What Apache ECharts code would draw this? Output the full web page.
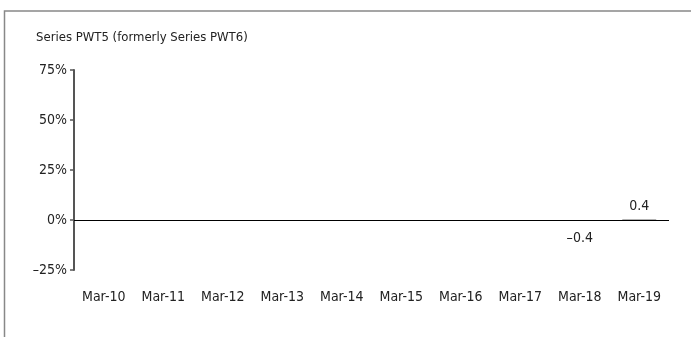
<!DOCTYPE html>
<html>
<head>
<meta charset="utf-8">
<script src="https://cdn.jsdelivr.net/npm/echarts@6/dist/echarts.min.js"></script>
<style>
  html, body { margin: 0; padding: 0; background: #fff; }
  #chart { width: 691px; height: 337px; }
</style>
</head>
<body>
<div id="chart"></div>
<script>
const title = 'Series PWT5 (formerly Series PWT6)';
const categories = ['Mar-10', 'Mar-11', 'Mar-12', 'Mar-13', 'Mar-14', 'Mar-15', 'Mar-16', 'Mar-17', 'Mar-18', 'Mar-19'];
const values = [0, 0, 0, 0, 0, 0, 0, 0, -0.4, 0.4];
const yTicks = [-25, 0, 25, 50, 75];

const font = '"Liberation Sans Narrow", "DejaVu Sans Condensed", sans-serif';
const dash = s => String(s).replace('-', '\u2013');

const chart = echarts.init(document.getElementById('chart'));

// bars with labels only where there is something to say
const barData = values.map(v => ({
  value: v,
  label: {
    show: v !== 0,
    position: v < 0 ? 'bottom' : 'top',
    distance: v < 0 ? 11 : 6
  }
}));

let option = {
  animation: false,
  textStyle: { fontFamily: font },
  title: {
    text: title,
    left: 31,
    top: 26,
    textStyle: { fontFamily: font, fontSize: 13, fontWeight: 'normal', color: '#222' }
  },
  graphic: [
    {
      type: 'polyline',
      shape: { points: [[4.5, 337], [4.5, 11], [691, 11]] },
      style: { stroke: '#888', lineWidth: 1.5, fill: null }
    }
  ],
  grid: { left: 74, right: 22, top: 70, bottom: 67, containLabel: false, outerBoundsMode: 'none' },
  xAxis: {
    type: 'category',
    data: categories,
    axisLine: { show: false, onZero: false },
    axisTick: { show: false },
    axisLabel: {
      interval: 0,
      margin: 20,
      fontFamily: font,
      fontSize: 14,
      color: '#222'
    }
  },
  yAxis: {
    type: 'value',
    min: yTicks[0],
    max: yTicks[yTicks.length - 1],
    interval: 25,
    splitLine: { show: false },
    axisLine: { show: true, lineStyle: { color: '#555', width: 2 } },
    axisTick: { show: true, length: 4, lineStyle: { color: '#555', width: 1.5 } },
    axisLabel: {
      margin: 7,
      fontFamily: font,
      fontSize: 14,
      color: '#222',
      formatter: v => dash(v) + '%'
    }
  },
  series: [
    {
      type: 'bar',
      data: barData,
      barWidth: '57%',
      itemStyle: { color: '#999' },
      label: {
        fontFamily: font,
        fontSize: 14,
        color: '#222',
        formatter: p => dash(p.value)
      },
      // zero line across the plot
      markLine: {
        silent: true,
        symbol: 'none',
        label: { show: false },
        lineStyle: { color: '#000', width: 1.2, type: 'solid' },
        data: [{ yAxis: 0 }]
      }
    }
  ]
};

chart.setOption(option);
</script>
</body>
</html>
